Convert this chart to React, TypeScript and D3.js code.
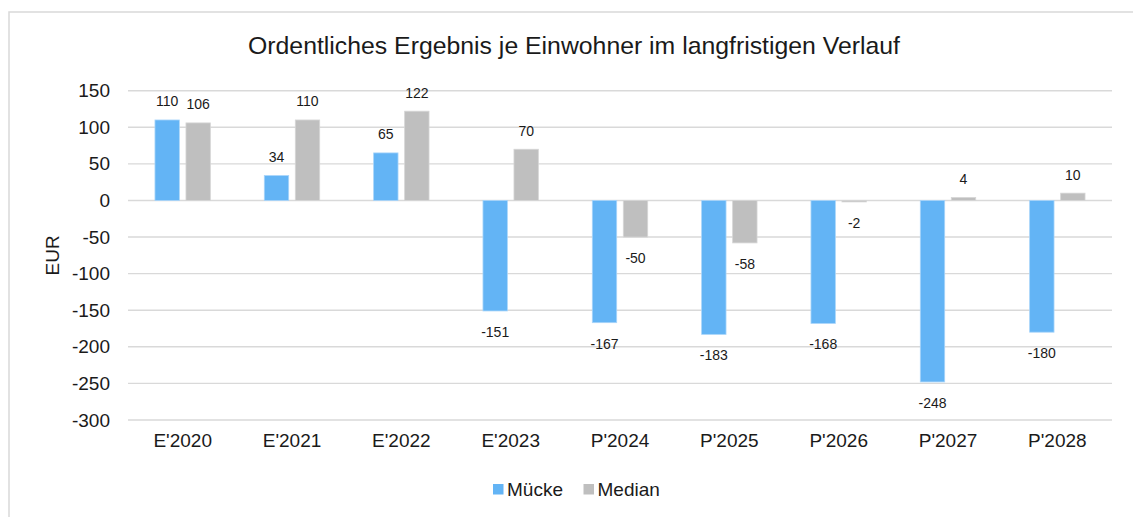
import { useEffect, useRef } from "react";
import * as d3 from "d3";

// categories and series values
const categories = ["E'2020", "E'2021", "E'2022", "E'2023", "P'2024", "P'2025", "P'2026", "P'2027", "P'2028"];
const muecke = [110, 34, 65, -151, -167, -183, -168, -248, -180];
const median = [106, 110, 122, 70, -50, -58, -2, 4, 10];
const seriesNames = ["Mücke", "Median"];
const yTicks = [150, 100, 50, 0, -50, -100, -150, -200, -250, -300];

const colors: Record<string, string> = { "Mücke": "#63B4F5", Median: "#BFBFBF" };

const App = () => {
  const ref = useRef<SVGSVGElement | null>(null);

  useEffect(() => {
    const width = 1133;
    const height = 517;
    const plot = { left: 128, right: 1112, top: 90.7, bottom: 420 };
    const font = "'Liberation Sans', Arial, sans-serif";

    const svg = d3.select(ref.current);
    svg.selectAll("*").remove();

    // chart frame (only left/top edges are visible in the picture)
    svg
      .append("rect")
      .attr("x", 9)
      .attr("y", 12)
      .attr("width", width + 20)
      .attr("height", height + 20)
      .attr("fill", "white")
      .attr("stroke", "#D9D9D9")
      .attr("stroke-width", 1.5);

    const x0 = d3.scaleBand().domain(categories).range([plot.left, plot.right]);
    const x1 = d3
      .scaleBand()
      .domain(seriesNames)
      .range([x0.bandwidth() / 2 - 27.7, x0.bandwidth() / 2 + 27.7])
      .paddingInner(0.213);
    const y = d3.scaleLinear().domain([-300, 150]).range([plot.bottom, plot.top]);

    // gridlines
    svg
      .append("g")
      .selectAll("line")
      .data(yTicks)
      .enter()
      .append("line")
      .attr("x1", plot.left)
      .attr("x2", plot.right)
      .attr("y1", (d) => y(d))
      .attr("y2", (d) => y(d))
      .attr("stroke", "#D9D9D9")
      .attr("stroke-width", 1.4);

    // y axis labels (plain hyphen for negatives, like the original)
    const yAxis = d3
      .axisLeft(y)
      .tickValues(yTicks)
      .tickFormat((d) => String(d))
      .tickSize(0)
      .tickPadding(18);
    const gy = svg.append("g").attr("transform", `translate(${plot.left},0)`).call(yAxis);
    gy.select(".domain").remove();
    gy.selectAll("text")
      .attr("font-family", font)
      .attr("font-size", 19)
      .attr("fill", "#1a1a1a");

    // x axis labels
    const xAxis = d3.axisBottom(x0).tickSize(0).tickPadding(14);
    const gx = svg.append("g").attr("transform", `translate(0,${plot.bottom})`).call(xAxis);
    gx.select(".domain").remove();
    gx.selectAll("text")
      .attr("font-family", font)
      .attr("font-size", 19)
      .attr("fill", "#1a1a1a");

    const rows = categories.map((c, i) => ({
      cat: c,
      values: [
        { key: "Mücke", value: muecke[i] },
        { key: "Median", value: median[i] },
      ],
    }));

    const groups = svg
      .append("g")
      .selectAll("g")
      .data(rows)
      .enter()
      .append("g")
      .attr("transform", (d) => `translate(${x0(d.cat)},0)`);

    groups
      .selectAll("rect")
      .data((d) => d.values)
      .enter()
      .append("rect")
      .attr("x", (d) => x1(d.key) as number)
      .attr("width", x1.bandwidth())
      .attr("y", (d) => y(Math.max(0, d.value)))
      .attr("height", (d) => Math.abs(y(d.value) - y(0)))
      .attr("fill", (d) => colors[d.key])
      .attr("stroke", (d) => (d.key === "Mücke" ? "#A9D5FA" : "#D6D6D6"))
      .attr("stroke-width", 0.8);

    // data labels
    groups
      .selectAll("text.lbl")
      .data((d) => d.values)
      .enter()
      .append("text")
      .attr("class", "lbl")
      .attr("x", (d) => (x1(d.key) as number) + x1.bandwidth() / 2)
      .attr("y", (d) => (d.value >= 0 ? y(d.value) - 13.5 : y(d.value) + 26))
      .attr("text-anchor", "middle")
      .attr("font-family", font)
      .attr("font-size", 14)
      .attr("fill", "#1a1a1a")
      .text((d) => d.value);

    // title
    svg
      .append("text")
      .attr("x", 574)
      .attr("y", 54)
      .attr("text-anchor", "middle")
      .attr("font-family", font)
      .attr("font-size", 24.8)
      .attr("fill", "#1a1a1a")
      .text("Ordentliches Ergebnis je Einwohner im langfristigen Verlauf");

    // y axis title
    svg
      .append("text")
      .attr("transform", `translate(59,${(plot.top + plot.bottom) / 2}) rotate(-90)`)
      .attr("text-anchor", "middle")
      .attr("font-family", font)
      .attr("font-size", 19)
      .attr("fill", "#1a1a1a")
      .text("EUR");

    // legend
    const legend = svg.append("g");
    const legendX = [493, 583.5];
    seriesNames.forEach((name, i) => {
      legend
        .append("rect")
        .attr("x", legendX[i])
        .attr("y", 484)
        .attr("width", 10.5)
        .attr("height", 10.5)
        .attr("fill", colors[name]);
      legend
        .append("text")
        .attr("x", legendX[i] + 14)
        .attr("y", 496)
        .attr("font-family", font)
        .attr("font-size", 19)
        .attr("fill", "#1a1a1a")
        .text(name);
    });
  }, []);

  return (
    <div style={{ position: "absolute", left: 0, top: 0 }}>
      <svg ref={ref} width={1133} height={517} style={{ display: "block", background: "white" }} />
    </div>
  );
};

export default App;
